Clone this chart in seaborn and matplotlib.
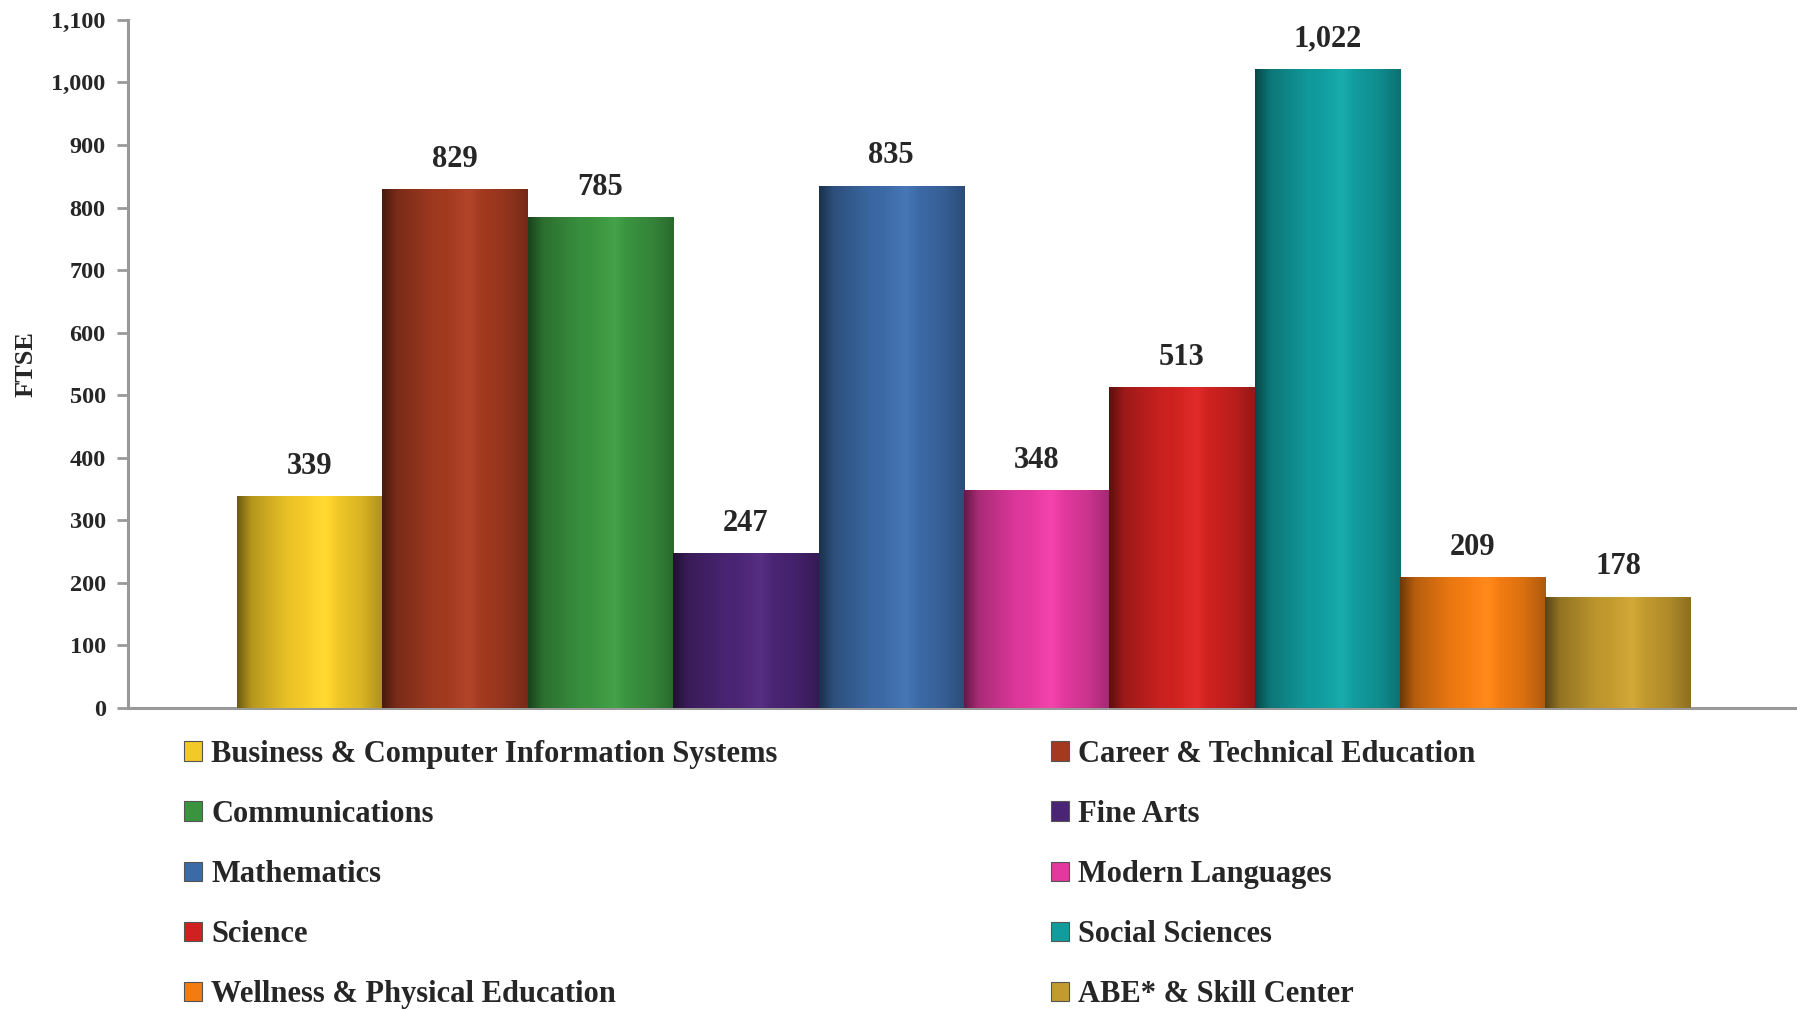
import numpy as np
import pandas as pd
import matplotlib
matplotlib.use("Agg")
import matplotlib.pyplot as plt
import matplotlib.colors as mcolors
from matplotlib.patches import Patch
import seaborn as sns

# data
departments = [
    "Business & Computer Information Systems",
    "Career & Technical Education",
    "Communications",
    "Fine Arts",
    "Mathematics",
    "Modern Languages",
    "Science",
    "Social Sciences",
    "Wellness & Physical Education",
    "ABE* & Skill Center",
]
ftse = [339, 829, 785, 247, 835, 348, 513, 1022, 209, 178]
bar_colors = [
    "#F2C928", "#A33A20", "#3A933F", "#4B2575", "#3C6AA6",
    "#E2399E", "#CF2220", "#119C9E", "#F27C12", "#C29A2E",
]
y_ticks = list(range(0, 1101, 100))

sns.set_style("white")
plt.rcParams["font.family"] = ["Liberation Serif", "DejaVu Serif"]
plt.rcParams["font.weight"] = "bold"

df = pd.DataFrame({"department": departments, "ftse": ftse})

fig = plt.figure(figsize=(17.97, 10.09), dpi=100)
ax = fig.add_axes([0.0712, 0.2983, 0.9288, 0.682])

sns.barplot(data=df, x="department", y="ftse", hue="department",
            palette=bar_colors, width=1.0, saturation=1, legend=False,
            ax=ax, zorder=2)

# cylinder-ish horizontal shading, clipped to each bar
shade = np.interp(np.linspace(0, 1, 200),
                  [0.0, 0.1, 0.35, 0.6, 0.85, 1.0],
                  [0.45, 0.75, 0.97, 1.05, 0.9, 0.72])
for patch, col in zip(ax.patches, bar_colors):
    x0, w, h = patch.get_x(), patch.get_width(), patch.get_height()
    base = np.array(mcolors.to_rgb(col))
    rgb = np.clip(base[None, :] * shade[:, None], 0, 1)
    light = shade > 1
    rgb[light] = np.clip(rgb[light] + (shade[light, None] - 1) * 0.6, 0, 1)
    img = np.concatenate([rgb, np.ones((len(shade), 1))], axis=1)[None, :, :]
    im = ax.imshow(img, extent=[x0, x0 + w, 0, h], aspect="auto",
                   zorder=3, interpolation="bilinear")
    im.set_clip_path(patch)

for cont in ax.containers:
    ax.bar_label(cont, labels=[f"{v:,.0f}" for v in cont.datavalues],
                 padding=11, fontsize=22, fontweight="bold", zorder=5)

ax.set_xlim(-1.25, 10.23)
ax.set_ylim(0, 1100)
ax.set_yticks(y_ticks)
ax.set_yticklabels([f"{t:,}" for t in y_ticks])
ax.set_xticks([])
ax.set_xlabel("")
ax.set_ylabel("FTSE", fontsize=19, fontweight="bold", labelpad=10)
ax.tick_params(axis="y", labelsize=17.5, length=8, width=2, color="#999999",
               direction="out", pad=8, left=True)
for lab in ax.get_yticklabels():
    lab.set_fontweight("bold")
sns.despine(ax=ax, top=True, right=True)
for side in ["left", "bottom"]:
    ax.spines[side].set_color("#999999")
    ax.spines[side].set_linewidth(2.2)

# legend in two columns, row-major like the original
handles = [Patch(facecolor=c, edgecolor="#555555", linewidth=0.8) for c in bar_colors]
for col_idx, xpos in enumerate([0.0955, 0.578]):
    idx = list(range(col_idx, len(departments), 2))
    leg = fig.legend([handles[i] for i in idx], [departments[i] for i in idx],
                     loc="upper left", bbox_to_anchor=(xpos, 0.279),
                     frameon=False, fontsize=22, handlelength=0.6,
                     handleheight=0.6, handletextpad=0.3, labelspacing=1.02,
                     borderaxespad=0)
    for t in leg.get_texts():
        t.set_fontweight("bold")

fig.savefig("out.png", dpi=100)
